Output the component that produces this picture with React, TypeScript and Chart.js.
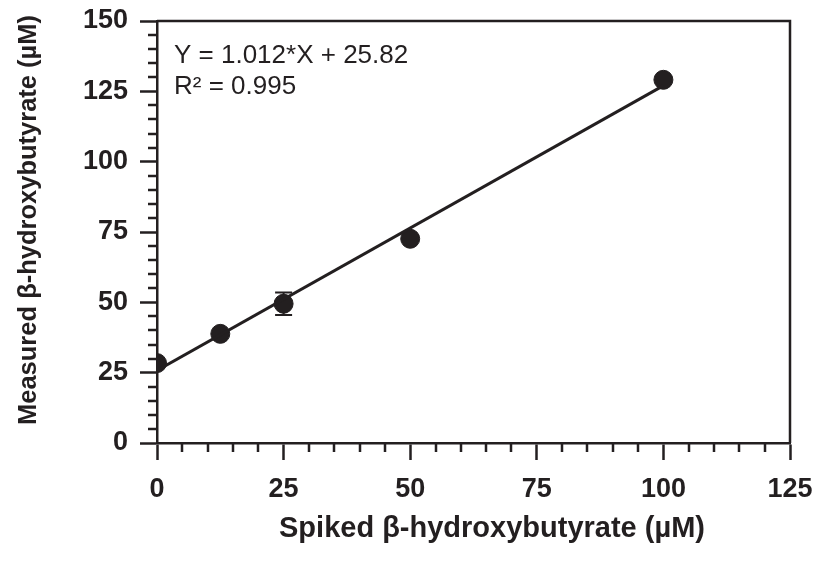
import { useEffect, useRef } from 'react';
import { Chart, registerables } from 'chart.js';

Chart.register(...registerables);

const spikedX = [0, 12.5, 25, 50, 100];
const measuredY = [28.4, 38.8, 49.5, 72.6, 129.1];
const errorY = [0, 0, 4.0, 0, 0];
const fitX = [0, 100];
const fitY = [25.82, 127.02];
const xTickValues = [0, 25, 50, 75, 100, 125];
const yTickValues = [0, 25, 50, 75, 100, 125, 150];
const minorStep = 5;
const equationText = 'Y = 1.012*X + 25.82';
const r2Text = 'R\u00B2 = 0.995';
const xTitle = 'Spiked \u03B2-hydroxybutyrate (\u00B5M)';
const yTitle = 'Measured \u03B2-hydroxybutyrate (\u00B5M)';

const INK = '#231f20';
const FONT = "'Liberation Sans', Arial, Helvetica, sans-serif";

const zeroPad = (s: any) => {
  s.paddingTop = 0;
  s.paddingBottom = 0;
  s.paddingLeft = 0;
  s.paddingRight = 0;
};

const decorPlugin = {
  id: 'decor',
  beforeDatasetsDraw(chart: any) {
    const { ctx } = chart;
    const xs = chart.scales.x;
    const ys = chart.scales.y;
    ctx.save();
    ctx.strokeStyle = INK;
    ctx.lineWidth = 2;
    spikedX.forEach((xv, i) => {
      const e = errorY[i];
      if (!e) return;
      const px = xs.getPixelForValue(xv);
      const top = ys.getPixelForValue(measuredY[i] + e);
      const bot = ys.getPixelForValue(measuredY[i] - e);
      ctx.beginPath();
      ctx.moveTo(px, top);
      ctx.lineTo(px, bot);
      ctx.moveTo(px - 8.5, top);
      ctx.lineTo(px + 8.5, top);
      ctx.moveTo(px - 8.5, bot);
      ctx.lineTo(px + 8.5, bot);
      ctx.stroke();
    });
    ctx.restore();
  },
  afterDraw(chart: any) {
    const { ctx, chartArea } = chart;
    const xs = chart.scales.x;
    const ys = chart.scales.y;
    ctx.save();
    ctx.strokeStyle = INK;
    ctx.lineWidth = 2.5;
    ctx.beginPath();
    ctx.moveTo(chartArea.left, chartArea.top);
    ctx.lineTo(chartArea.right, chartArea.top);
    ctx.lineTo(chartArea.right, chartArea.bottom);
    ctx.stroke();
    ctx.beginPath();
    for (let v = xs.min; v <= xs.max; v += minorStep) {
      if (v % 25 === 0) continue;
      const px = Math.round(xs.getPixelForValue(v));
      ctx.moveTo(px, chartArea.bottom);
      ctx.lineTo(px, chartArea.bottom + 9);
    }
    for (let v = ys.min; v <= ys.max; v += minorStep) {
      if (v % 25 === 0) continue;
      const py = Math.round(ys.getPixelForValue(v));
      ctx.moveTo(chartArea.left, py);
      ctx.lineTo(chartArea.left - 9, py);
    }
    ctx.stroke();
    ctx.fillStyle = INK;
    ctx.font = `26px ${FONT}`;
    ctx.textAlign = 'left';
    ctx.textBaseline = 'alphabetic';
    ctx.fillText(equationText, 174, 63);
    ctx.fillText(r2Text, 174, 94);
    ctx.font = `bold 29px ${FONT}`;
    ctx.textAlign = 'center';
    ctx.textBaseline = 'middle';
    ctx.fillText(xTitle, 492, 529);
    ctx.font = `bold 25.5px ${FONT}`;
    ctx.translate(29, 220);
    ctx.rotate(-Math.PI / 2);
    ctx.fillText(yTitle, 0, 0);
    ctx.restore();
  },
};

export default function App() {
  const ref = useRef<HTMLCanvasElement | null>(null);
  useEffect(() => {
    if (!ref.current) return;
    const chart = new Chart(ref.current, {
      type: 'scatter',
      data: {
        datasets: [
          {
            type: 'line',
            data: fitX.map((x, i) => ({ x, y: fitY[i] })),
            borderColor: INK,
            borderWidth: 3,
            pointRadius: 0,
            fill: false,
          } as any,
          {
            data: spikedX.map((x, i) => ({ x, y: measuredY[i] })),
            backgroundColor: INK,
            borderColor: INK,
            pointRadius: 9.5,
            pointHoverRadius: 9.5,
          },
        ],
      },
      options: {
        animation: false,
        responsive: false,
        devicePixelRatio: 1,
        layout: { padding: { top: 21, right: 31, left: 0, bottom: 0 } },
        plugins: { legend: { display: false }, tooltip: { enabled: false }, title: { display: false } },
        scales: {
          x: {
            type: 'linear',
            min: 0,
            max: 125,
            afterBuildTicks: (s: any) => { s.ticks = xTickValues.map((v) => ({ value: v })); },
            afterFit: (s: any) => { s.height = 127; zeroPad(s); },
            ticks: { color: INK, font: { family: FONT, size: 27, weight: 'bold' }, padding: 13, maxRotation: 0 },
            grid: { drawOnChartArea: false, drawTicks: true, tickLength: 17, tickWidth: 2.5, tickColor: INK },
            border: { display: true, color: INK, width: 2.5 },
          },
          y: {
            type: 'linear',
            min: 0,
            max: 150,
            afterBuildTicks: (s: any) => { s.ticks = yTickValues.map((v) => ({ value: v })); },
            afterFit: (s: any) => { s.width = 157; zeroPad(s); },
            ticks: { color: INK, font: { family: FONT, size: 27, weight: 'bold' }, padding: 12 },
            grid: { drawOnChartArea: false, drawTicks: true, tickLength: 17, tickWidth: 2.5, tickColor: INK },
            border: { display: true, color: INK, width: 2.5 },
          },
        },
      },
      plugins: [decorPlugin],
    });
    return () => chart.destroy();
  }, []);
  return (
    <div style={{ position: 'absolute', left: 0, top: 0, width: 821, height: 570, background: '#fff' }}>
      <canvas ref={ref} width={821} height={570} style={{ display: 'block' }} />
    </div>
  );
}
